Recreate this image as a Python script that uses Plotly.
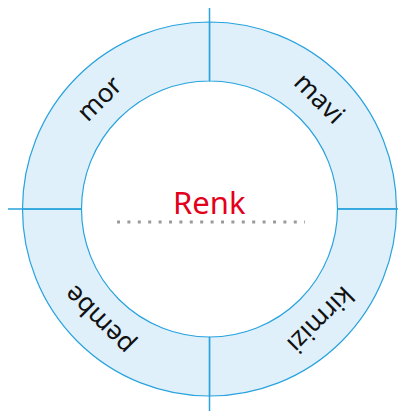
import math
import plotly.graph_objects as go

# Data
labels = ["mavi", "kirmizi", "pembe", "mor"]
values = [1, 1, 1, 1]
center_title = "Renk"

W, H = 406, 411
OFF = 8.0                      # page body margin offset
cx, cy = 209.5 - OFF, 209.0 - OFF   # pixel center within figure
R_out, R_in = 187.0, 128.0
FILL = "#dff0fb"
STROKE = "#29a3dd"

fig = go.Figure()
fig.add_trace(go.Pie(
    labels=labels, values=values, sort=False, direction="clockwise", rotation=0,
    hole=R_in / R_out, textinfo="none", hoverinfo="skip", showlegend=False,
    marker=dict(colors=[FILL] * len(labels), line=dict(color=STROKE, width=1.2)),
    domain=dict(x=[(cx - R_out) / W, (cx + R_out) / W],
                y=[(H - cy - R_out) / H, (H - cy + R_out) / H]),
))

def px(x):
    return x / W

def py(y):
    return (H - y) / H

# Tangential labels at slice midpoints
total = sum(values)
acc = 0
r_mid = (R_out + R_in) / 2
annotations = []
for lab, v in zip(labels, values):
    mid = (acc + v / 2) / total * 360.0  # clockwise from top
    acc += v
    th = math.radians(mid)
    x = cx + r_mid * math.sin(th)
    y = cy - r_mid * math.cos(th)
    annotations.append(dict(
        x=px(x), y=py(y), xref="paper", yref="paper", text=lab, showarrow=False,
        textangle=mid if mid <= 180 else mid - 360,
        font=dict(family="Noto Sans", size=26, color="#111111"),
        xanchor="center", yanchor="middle"))

annotations.append(dict(
    x=px(cx), y=py(202 - OFF), xref="paper", yref="paper", text=center_title, showarrow=False,
    font=dict(family="Noto Sans", size=31, color="#e3001b"),
    xanchor="center", yanchor="middle"))

# Divider lines at slice boundaries extending outside the ring
ext_len = [203, 197, 202, 201.5]
shapes = []
acc = 0
for i, v in enumerate(values):
    ang = math.radians(acc / total * 360.0)
    acc += v
    s, c = math.sin(ang), -math.cos(ang)
    x0, y0 = cx + R_in * s, cy + R_in * c
    x1, y1 = cx + ext_len[i] * s, cy + ext_len[i] * c
    shapes.append(dict(type="line", xref="paper", yref="paper",
                       x0=px(x0), y0=py(y0), x1=px(x1), y1=py(y1),
                       line=dict(color=STROKE, width=1.5)))

# Dotted guide line under the title
shapes.append(dict(type="line", xref="paper", yref="paper",
                   x0=px(117 - OFF), y0=py(222 - OFF), x1=px(305 - OFF), y1=py(222 - OFF),
                   line=dict(color="#9a9a9a", width=3.2, dash="3px,7.4px")))

fig.update_layout(width=W, height=H, margin=dict(l=0, r=0, t=0, b=0),
                  paper_bgcolor="white", plot_bgcolor="white",
                  annotations=annotations, shapes=shapes)
fig.write_html("out.html")
